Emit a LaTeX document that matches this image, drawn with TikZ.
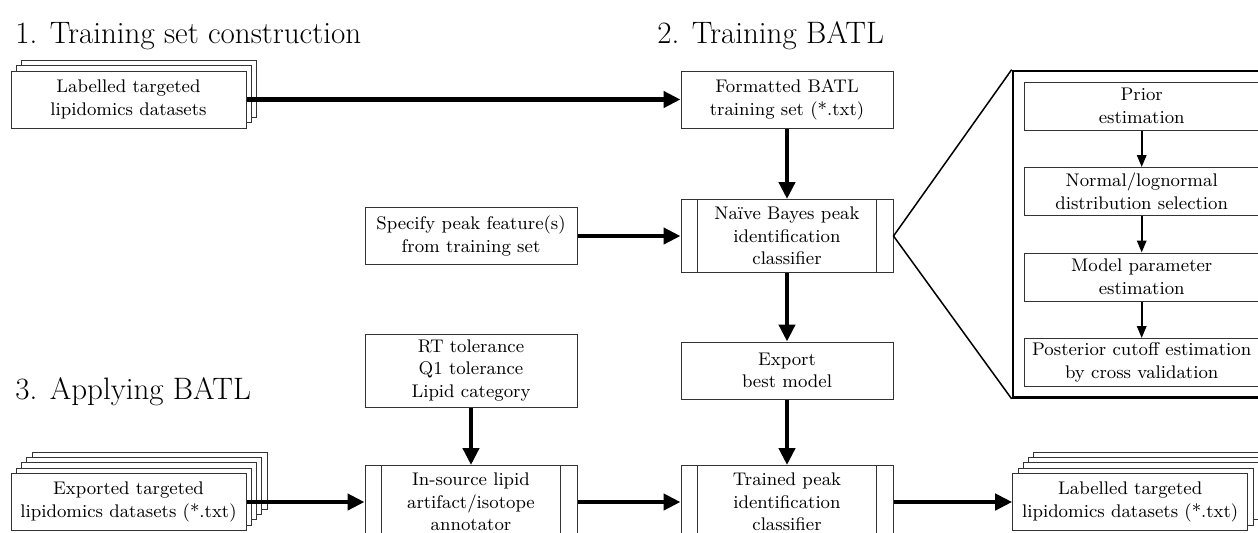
\documentclass[tikz,border=0pt]{standalone}
\usetikzlibrary{arrows.meta,fit}

\tikzset{
    x={0.5pt},
    y={-0.5pt},
    box text/.style={
        font={\fontsize{9.15pt}{11.35pt}\selectfont},
        align=center,
    },
    section title/.style={
        font={\fontsize{15.5pt}{18pt}\selectfont},
        anchor=base west,
        inner sep=0pt,
    },
    process box/.style={
        box text, draw=black!80, fill=white,
        line width={0.5pt},
        inner sep=0pt,
        minimum width={106pt},
        minimum height={28.5pt},
    },
    tall box/.style={
        process box,
        minimum height={36.5pt},
    },
    predefined box/.style={
        tall box,
        path picture={
            \draw[black!80, line width=0.5pt]
                ([xshift=8.25pt]path picture bounding box.north west) -- ([xshift=8.25pt]path picture bounding box.south west)
                ([xshift=-8.25pt]path picture bounding box.north east) -- ([xshift=-8.25pt]path picture bounding box.south east);
        },
    },
    data sheet/.style={
        process box,
        minimum width={117.5pt},
    },
    panel box/.style={
        process box,
        minimum width={117.7pt},
        minimum height={24pt},
    },
    panel frame/.style={
        draw, line width={1.25pt},
        inner sep={5.3pt},
    },
    flow/.style={
        line width={2.25pt},
        -{Triangle[length=8.5pt,width=8pt]},
    },
    sub flow/.style={
        line width={1pt},
        -{Triangle[length=6pt,width=4.7pt]},
    },
    zoom line/.style={
        line width={0.75pt},
    },
}

\begin{document}
\begin{tikzpicture}
\useasboundingbox (0,0) rectangle (1258,532);
\clip (0,0) rectangle (1258,532);
% titles
\node[section title] (title1) at (15,43) {1. Training set construction};
\node[section title] (title2) at (657,43) {2. Training BATL};
\node[section title] (title3) at (15,399) {3. Applying BATL};
% stacked datasets
\foreach \k in {2,1}
    \node[data sheet] at (128.5+5.3*\k,99.5-5.3*\k) {};
\node[data sheet] (labelled) at (128.5,99.5) {Labelled targeted\\lipidomics datasets};
\foreach \k in {4,...,1}
    \node[data sheet] at (128.5+5.3*\k,502-5.3*\k) {};
\node[data sheet] (exported) at (128.5,502) {Exported targeted\\lipidomics datasets (*.txt)};
\foreach \k in {4,...,1}
    \node[data sheet] at (1130.2+5.3*\k,502-5.3*\k) {};
\node[data sheet] (output) at (1130.2,502) {Labelled targeted\\lipidomics datasets (*.txt)};
% main flow
\node[process box] (formatted) at (787,99.5) {Formatted BATL\\training set (*.txt)};
\node[predefined box] (naive) at (787,236) {Na\"{\i}ve Bayes peak\\identification\\classifier};
\node[process box] (specify) at (471,236) {Specify peak feature(s)\\from training set};
\node[process box] (export) at (787,370.5) {Export\\best model};
\node[tall box] (tolerance) at (471,370.5) {RT tolerance\\Q1 tolerance\\Lipid category};
\node[predefined box] (annotator) at (471,502) {In-source lipid\\artifact/isotope\\annotator};
\node[predefined box] (trained) at (787,502) {Trained peak\\identification\\classifier};
% classifier detail
\node[panel box] (prior) at (1141.7,106) {Prior\\estimation};
\node[panel box] (distribution) at (1141.7,191.5) {Normal/lognormal\\distribution selection};
\node[panel box] (parameter) at (1141.7,277) {Model parameter\\estimation};
\node[panel box] (posterior) at (1141.7,362.5) {Posterior cutoff estimation\\by cross validation};
\node[panel frame, fit=(prior)(posterior)] (panel) {};
% arrows
\draw[flow] (labelled) -- (formatted);
\draw[flow] (formatted) -- (naive);
\draw[flow] (specify) -- (naive);
\draw[flow] (naive) -- (export);
\draw[flow] (export) -- (trained);
\draw[flow] (tolerance) -- (annotator);
\draw[flow] (exported) -- (annotator);
\draw[flow] (annotator) -- (trained);
\draw[flow] (trained) -- (output);
\draw[sub flow] (prior) -- (distribution);
\draw[sub flow] (distribution) -- (parameter);
\draw[sub flow] (parameter) -- (posterior);
\draw[zoom line] (panel.north west) -- (naive.east) -- (panel.south west);
\end{tikzpicture}
\end{document}
